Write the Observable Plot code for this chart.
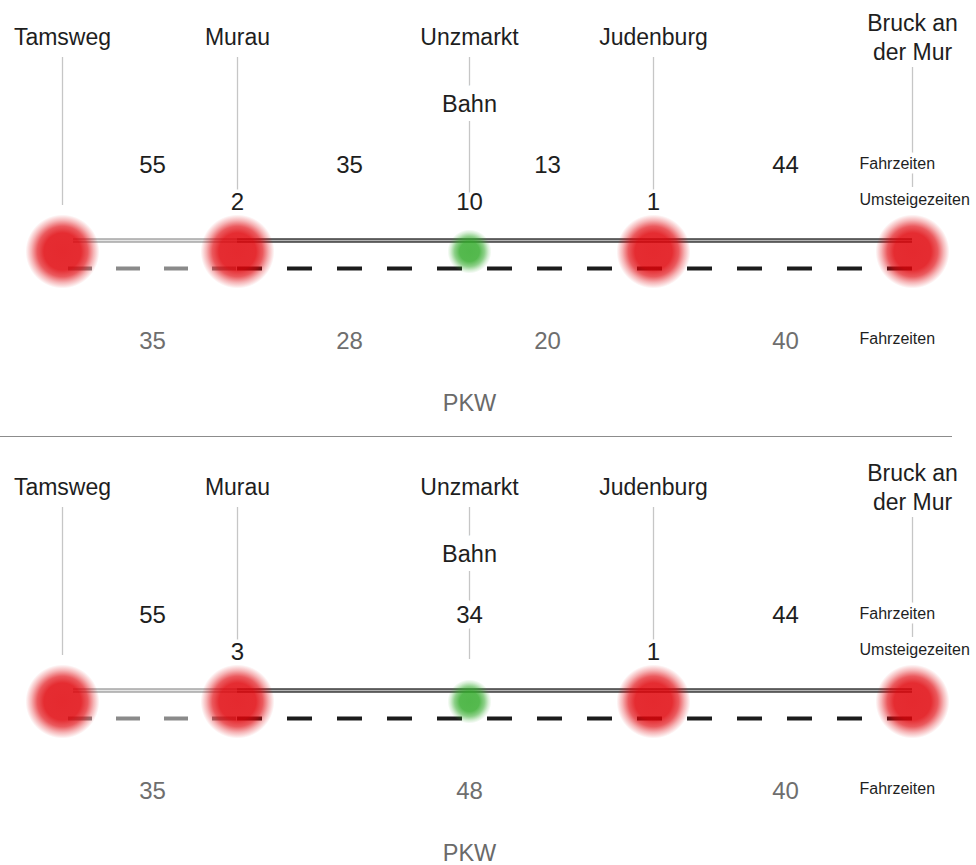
<!DOCTYPE html>
<html>
<head>
<meta charset="utf-8">
<script src="https://cdn.jsdelivr.net/npm/d3@7"></script>
<script src="https://cdn.jsdelivr.net/npm/@observablehq/plot@0.6"></script>
<style>
  body { margin: 0; background: #fff; }
  #chart { width: 976px; height: 865px; }
</style>
</head>
<body>
<div id="chart"></div>
<script>
// ---------------- DATA ----------------
const stations = ["Tamsweg", "Murau", "Unzmarkt", "Judenburg", "Bruck an der Mur"];
const stationLabels = ["Tamsweg", "Murau", "Unzmarkt", "Judenburg", "Bruck an\nder Mur"];
const stationKinds = ["Knoten", "Knoten", "Halt", "Knoten", "Knoten"];

const panels = ["oben", "unten"];

// Panel oben
const bahnSegments1 = ["Tamsweg–Murau", "Murau–Unzmarkt", "Unzmarkt–Judenburg", "Judenburg–Bruck"];
const bahnFahrzeiten1 = [55, 35, 13, 44];
const umsteigeStations1 = ["Murau", "Unzmarkt", "Judenburg"];
const umsteigezeiten1 = [2, 10, 1];
const pkwSegments1 = ["Tamsweg–Murau", "Murau–Unzmarkt", "Unzmarkt–Judenburg", "Judenburg–Bruck"];
const pkwFahrzeiten1 = [35, 28, 20, 40];

// Panel unten
const bahnSegments2 = ["Tamsweg–Murau", "Murau–Judenburg", "Judenburg–Bruck"];
const bahnFahrzeiten2 = [55, 34, 44];
const umsteigeStations2 = ["Murau", "Judenburg"];
const umsteigezeiten2 = [3, 1];
const pkwSegments2 = ["Tamsweg–Murau", "Murau–Judenburg", "Judenburg–Bruck"];
const pkwFahrzeiten2 = [35, 48, 40];

const modeLabels = ["Bahn", "PKW"];
const sideLabels = ["Fahrzeiten", "Umsteigezeiten", "Fahrzeiten"];

// ---------------- LAYOUT ----------------
const stationX = {"Tamsweg": 62, "Murau": 237, "Unzmarkt": 469, "Judenburg": 653, "Bruck an der Mur": 912};
const segmentX = {"Tamsweg–Murau": 152, "Murau–Unzmarkt": 349, "Unzmarkt–Judenburg": 547,
                  "Judenburg–Bruck": 785, "Murau–Judenburg": 469};
const panelTop = {oben: 0, unten: 450};
const rowY = {name: 36, bahn: 104, fahrt: 165, umstieg: 202, solid: 240, dot: 251, dash: 268,
              pkwFahrt: 341, pkw: 403, sideFahrt: 163, sideUm: 199, sidePkw: 338, sep: 436};
const leaderTop = {"Tamsweg": 57, "Murau": 57, "Unzmarkt": 57, "Judenburg": 57, "Bruck an der Mur": 67};
const leaderBottom = {"Tamsweg": 205, "Murau": 207, "Unzmarkt": 209, "Judenburg": 207, "Bruck an der Mur": 187};
const sideX = 859;

// ---------------- BUILD ----------------
const panelSets = [
  {panel: "oben", bSeg: bahnSegments1, bVal: bahnFahrzeiten1, uSt: umsteigeStations1, uVal: umsteigezeiten1, pSeg: pkwSegments1, pVal: pkwFahrzeiten1},
  {panel: "unten", bSeg: bahnSegments2, bVal: bahnFahrzeiten2, uSt: umsteigeStations2, uVal: umsteigezeiten2, pSeg: pkwSegments2, pVal: pkwFahrzeiten2}
];

const stationRows = panels.flatMap(p => stations.map((s, i) => ({panel: p, station: s, label: stationLabels[i], kind: stationKinds[i]})));
const bahnRows = panelSets.flatMap(ps => ps.bSeg.map((s, i) => ({panel: ps.panel, seg: s, value: ps.bVal[i]})));
const umRows = panelSets.flatMap(ps => ps.uSt.map((s, i) => ({panel: ps.panel, station: s, value: ps.uVal[i]})));
const pkwRows = panelSets.flatMap(ps => ps.pSeg.map((s, i) => ({panel: ps.panel, seg: s, value: ps.pVal[i]})));
const modeRows = panels.flatMap(p => modeLabels.map(m => ({panel: p, mode: m})));
const sideRows = panels.flatMap(p => sideLabels.map((t, i) => ({panel: p, text: t, row: ["sideFahrt", "sideUm", "sidePkw"][i]})));

// Line segments: first leg (Tamsweg–Murau) light, the rest dark
const legs = panels.flatMap(p => [
  {panel: p, from: "Tamsweg", to: "Murau", leg: "erste"},
  {panel: p, from: "Murau", to: "Bruck an der Mur", leg: "weitere"}
]);

const PY = (d, row) => panelTop[d.panel] + rowY[row];
const font = "'Liberation Sans', Arial, Helvetica, sans-serif";

const svg = Plot.plot({
  width: 976,
  height: 865,
  margin: 0,
  x: {type: "identity", axis: null},
  y: {type: "identity", axis: null},
  style: {fontFamily: font, background: "white", overflow: "visible"},
  marks: [
    // leader lines under station names
    Plot.ruleX(stationRows, {
      x: d => stationX[d.station],
      y1: d => panelTop[d.panel] + leaderTop[d.station],
      y2: d => panelTop[d.panel] + leaderBottom[d.station],
      stroke: "#c6c6c6", strokeWidth: 1.3
    }),
    // separator
    Plot.ruleY([panels[0]], {y: () => rowY.sep, x1: () => 0, x2: () => 952, stroke: "#8c8c8c", strokeWidth: 1}),
    // Bahn: solid double line
    Plot.ruleY(legs, {
      y: d => PY(d, "solid"),
      x1: d => stationX[d.from] + (d.from === "Tamsweg" ? 11 : 0),
      x2: d => stationX[d.to],
      stroke: d => d.leg === "erste" ? "#a6a6a6" : "#3c3c3c",
      strokeWidth: 4.6
    }),
    Plot.ruleY(legs, {
      y: d => PY(d, "solid"),
      x1: d => stationX[d.from] + (d.from === "Tamsweg" ? 11 : 0),
      x2: d => stationX[d.to],
      stroke: d => d.leg === "erste" ? "#e4e4e4" : "#b4b4b4",
      strokeWidth: 1.4
    }),
    // PKW: dashed line
    Plot.ruleY(legs.filter(d => d.leg === "erste"), {
      y: d => PY(d, "dash"),
      x1: d => stationX[d.from] + 6,
      x2: d => stationX[d.to],
      stroke: "#8a8a8a", strokeWidth: 4, strokeDasharray: "24,24"
    }),
    Plot.ruleY(legs.filter(d => d.leg === "weitere"), {
      y: d => PY(d, "dash"),
      x1: d => stationX[d.from],
      x2: d => stationX[d.to],
      stroke: "#1c1c1c", strokeWidth: 4, strokeDasharray: "25,25"
    }),
    // station circles
    Plot.dot(stationRows.filter(d => d.kind === "Knoten"), {
      x: d => stationX[d.station],
      y: d => PY(d, "dot"),
      r: 37,
      fill: "url(#glowRed)",
      stroke: "none"
    }),
    Plot.dot(stationRows.filter(d => d.kind === "Halt"), {
      x: d => stationX[d.station],
      y: d => PY(d, "dot"),
      r: 22,
      fill: "url(#glowGreen)",
      stroke: "none"
    }),
    // station names
    Plot.text(stationRows, {
      x: d => stationX[d.station],
      y: d => PY(d, "name"),
      text: "label",
      fontSize: 23, fill: "#1e1e1e", lineHeight: 1.22
    }),
    // mode labels
    Plot.text(modeRows, {
      x: () => stationX["Unzmarkt"],
      y: d => PY(d, d.mode === "Bahn" ? "bahn" : "pkw"),
      text: "mode",
      fontSize: 23.5,
      fill: d => d.mode === "Bahn" ? "#1e1e1e" : "#6a6a6a",
      stroke: "white", strokeWidth: 18
    }),
    // Bahn Fahrzeiten
    Plot.text(bahnRows, {
      x: d => segmentX[d.seg],
      y: d => PY(d, "fahrt"),
      text: d => String(d.value),
      fontSize: 24, fill: "#1e1e1e",
      stroke: "white", strokeWidth: 14
    }),
    // Umsteigezeiten
    Plot.text(umRows, {
      x: d => stationX[d.station],
      y: d => PY(d, "umstieg"),
      text: d => String(d.value),
      fontSize: 24, fill: "#1e1e1e",
      stroke: "white", strokeWidth: 7
    }),
    // PKW Fahrzeiten
    Plot.text(pkwRows, {
      x: d => segmentX[d.seg],
      y: d => PY(d, "pkwFahrt"),
      text: d => String(d.value),
      fontSize: 24, fill: "#6e6e6e"
    }),
    // side labels
    Plot.text(sideRows, {
      x: () => sideX,
      y: d => PY(d, d.row),
      text: "text",
      textAnchor: "start",
      fontSize: 16, fill: "#1e1e1e",
      stroke: "white", strokeWidth: 9
    })
  ]
});

// radial gradients for the soft circles
const defs = d3.select(svg).insert("defs", ":first-child");
function glow(id, color, stops) {
  const g = defs.append("radialGradient").attr("id", id).attr("cx", "50%").attr("cy", "50%").attr("r", "50%");
  for (const [o, a] of stops) g.append("stop").attr("offset", o).attr("stop-color", color).attr("stop-opacity", a);
}
glow("glowRed", "rgb(224,4,10)", [["0%", 0.85], ["50%", 0.84], ["68%", 0.66], ["84%", 0.3], ["100%", 0]]);
glow("glowGreen", "rgb(48,170,40)", [["0%", 0.84], ["45%", 0.82], ["68%", 0.55], ["86%", 0.2], ["100%", 0]]);

document.getElementById("chart").appendChild(svg);
</script>
</body>
</html>
